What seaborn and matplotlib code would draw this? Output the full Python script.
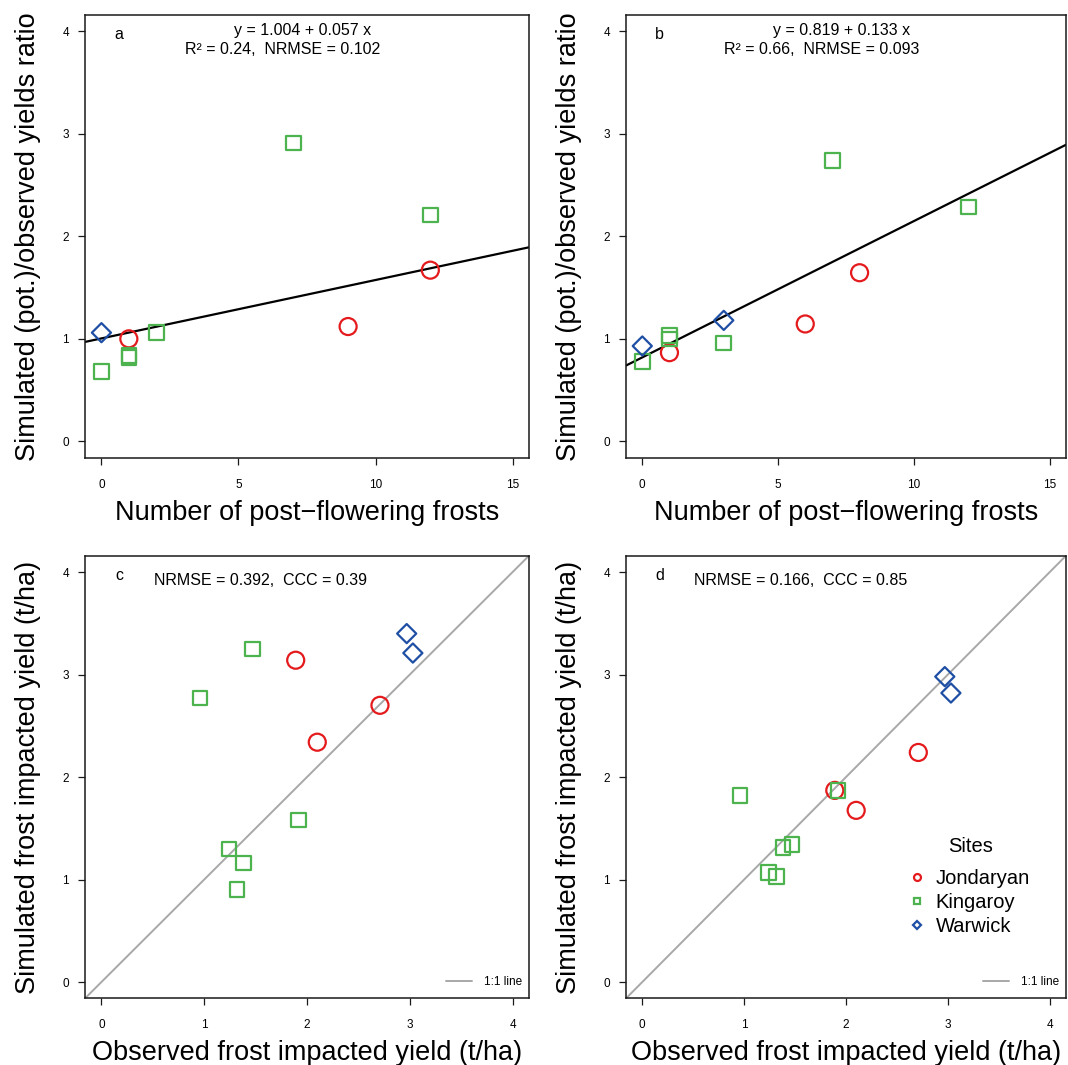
import matplotlib
matplotlib.use("Agg")
import matplotlib.pyplot as plt
from matplotlib.lines import Line2D
import seaborn as sns

# ---- data: frosts vs simulated/observed yield ratio ----
# panel a
a_jon_x = [1, 9, 12]
a_jon_y = [1.00, 1.12, 1.67]
a_kin_x = [0, 1, 1, 2, 7, 12]
a_kin_y = [0.68, 0.84, 0.82, 1.06, 2.91, 2.21]
a_war_x = [0]
a_war_y = [1.06]
a_fit = (1.004, 0.057)

# panel b
b_jon_x = [1, 6, 8]
b_jon_y = [0.865, 1.145, 1.645]
b_kin_x = [0, 1, 1, 3, 7, 12]
b_kin_y = [0.78, 1.03, 1.00, 0.96, 2.74, 2.285]
b_war_x = [0, 3]
b_war_y = [0.93, 1.18]
b_fit = (0.819, 0.133)

# ---- data: observed vs simulated frost impacted yield (t/ha) ----
obs_jon = [1.89, 2.10, 2.71]
obs_kin = [0.96, 1.47, 1.92, 1.24, 1.38, 1.32]
obs_war = [2.97, 3.03]
c_jon = [3.14, 2.34, 2.70]
c_kin = [2.77, 3.25, 1.58, 1.30, 1.16, 0.90]
c_war = [3.40, 3.21]
d_jon = [1.87, 1.675, 2.24]
d_kin = [1.82, 1.34, 1.87, 1.07, 1.31, 1.03]
d_war = [2.98, 2.82]

sites = ["Jondaryan", "Kingaroy", "Warwick"]
site_colors = {"Jondaryan": "#E41A1C", "Kingaroy": "#4DB34F", "Warwick": "#1F4FA5"}
site_markers = {"Jondaryan": "o", "Kingaroy": "s", "Warwick": "D"}
site_sizes = {"Jondaryan": 150, "Kingaroy": 110, "Warwick": 95}

sns.set_style("ticks")
plt.rcParams["font.family"] = ["Liberation Sans", "DejaVu Sans"]
plt.rcParams["text.color"] = "black"
plt.rcParams["axes.labelcolor"] = "black"
plt.rcParams["xtick.color"] = "black"
plt.rcParams["ytick.color"] = "black"
TICKFONT = ["Liberation Sans Narrow", "Liberation Sans", "DejaVu Sans"]

fig = plt.figure(figsize=(10.68, 10.65), dpi=100)
W, H = 1068, 1065
aw, ah = 444 / W, 442.7 / H
bw = 440 / W
ax_a = fig.add_axes([85 / W, 1 - 457.7 / H, aw, ah])
ax_b = fig.add_axes([626 / W, 1 - 457.7 / H, bw, ah])
ax_c = fig.add_axes([85 / W, 1 - 998.4 / H, aw, ah])
ax_d = fig.add_axes([626 / W, 1 - 998.4 / H, bw, ah])


def draw_points(ax, xs, ys):
    for site, x, y in zip(sites, xs, ys):
        c = site_colors[site]
        sns.scatterplot(x=x, y=y, ax=ax, marker=site_markers[site],
                        s=site_sizes[site], color=c, facecolor="none",
                        edgecolor=c, linewidth=1.6, legend=False, zorder=3)


def style_axes(ax, xlim, xticks, xlabel, ylabel, letter):
    ax.set_xlim(*xlim)
    ax.set_ylim(-0.16, 4.16)
    ax.set_xticks(xticks)
    ax.set_yticks([0, 1, 2, 3, 4])
    for s in ax.spines.values():
        s.set_visible(True)
        s.set_color("#1a1a1a")
        s.set_linewidth(1.1)
    ax.tick_params(axis="both", direction="out", length=5, width=0.9,
                   color="#1a1a1a", labelcolor="black", top=False, right=False)
    ax.tick_params(axis="x", pad=10)
    ax.tick_params(axis="y", pad=6.5)
    for lab in ax.get_xticklabels() + ax.get_yticklabels():
        lab.set_family(TICKFONT)
        lab.set_fontsize(8.5)
    ax.set_xlabel(xlabel, fontsize=19.5)
    ax.set_ylabel(ylabel, fontsize=19.5)
    ax.xaxis.set_label_coords(0.5, -0.095)
    ax.yaxis.set_label_coords(-0.10, 0.5)
    ax.text(0.0766, 0.955, letter, transform=ax.transAxes, fontsize=11.5,
            ha="center", va="center")


def one_to_one_legend(ax):
    return ax.legend([Line2D([], [], color="#A8A8A8", lw=1.4)], ["1:1 line"],
                     loc="lower right", bbox_to_anchor=(1 - 7.3 / 444, 10 / 442.8),
                     frameon=False, fontsize=8.5, handlelength=2.2,
                     handletextpad=1.0, borderaxespad=0, borderpad=0)


# panels a, b
for ax, xs, ys, fit, letter, r2, nrmse in [
    (ax_a, [a_jon_x, a_kin_x, a_war_x], [a_jon_y, a_kin_y, a_war_y], a_fit, "a", "0.24", "0.102"),
    (ax_b, [b_jon_x, b_kin_x, b_war_x], [b_jon_y, b_kin_y, b_war_y], b_fit, "b", "0.66", "0.093"),
]:
    ax.axline((0, fit[0]), slope=fit[1], color="black", lw=1.6, zorder=2)
    draw_points(ax, xs, ys)
    style_axes(ax, (-0.6, 15.6), [0, 5, 10, 15],
               "Number of post\u2212flowering frosts",
               "Simulated (pot.)/observed yields ratio", letter)
    ax.text(0.491, 0.964, f"y = {fit[0]:.3f} + {fit[1]:.3f} x",
            transform=ax.transAxes, fontsize=11.5, ha="center", va="center")
    ax.text(0.444, 0.923, f"R\u00b2 = {r2},  NRMSE = {nrmse}",
            transform=ax.transAxes, fontsize=11.5, ha="center", va="center")

# panels c, d
obs = [obs_jon, obs_kin, obs_war]
for ax, sims, letter, nrmse, ccc in [
    (ax_c, [c_jon, c_kin, c_war], "c", "0.392", "0.39"),
    (ax_d, [d_jon, d_kin, d_war], "d", "0.166", "0.85"),
]:
    ax.axline((0, 0), slope=1, color="#A8A8A8", lw=1.4, zorder=1)
    draw_points(ax, obs, sims)
    style_axes(ax, (-0.16, 4.16), [0, 1, 2, 3, 4],
               "Observed frost impacted yield (t/ha)",
               "Simulated frost impacted yield (t/ha)", letter)
    ax.text(0.396, 0.943, f"NRMSE = {nrmse},  CCC = {ccc}",
            transform=ax.transAxes, fontsize=11.5, ha="center", va="center")
    one_to_one_legend(ax)

# site legend in panel d
handles = [Line2D([], [], ls="none", marker=site_markers[s],
                  markersize=5 if s != "Warwick" else 4.5,
                  mfc="none", mec=site_colors[s], mew=1.6) for s in sites]
leg_sites = ax_d.legend(handles, sites, loc="upper left",
                        bbox_to_anchor=(0.644, 0.293), frameon=False,
                        fontsize=14.5, handlelength=0.8, handletextpad=0.5,
                        labelspacing=0.25, borderaxespad=0, borderpad=0)
ax_d.add_artist(leg_sites)
one_to_one_legend(ax_d)
ax_d.text(0.782, 0.344, "Sites", transform=ax_d.transAxes, fontsize=14.5,
          ha="center", va="center")

fig.savefig("out.png", dpi=100)
